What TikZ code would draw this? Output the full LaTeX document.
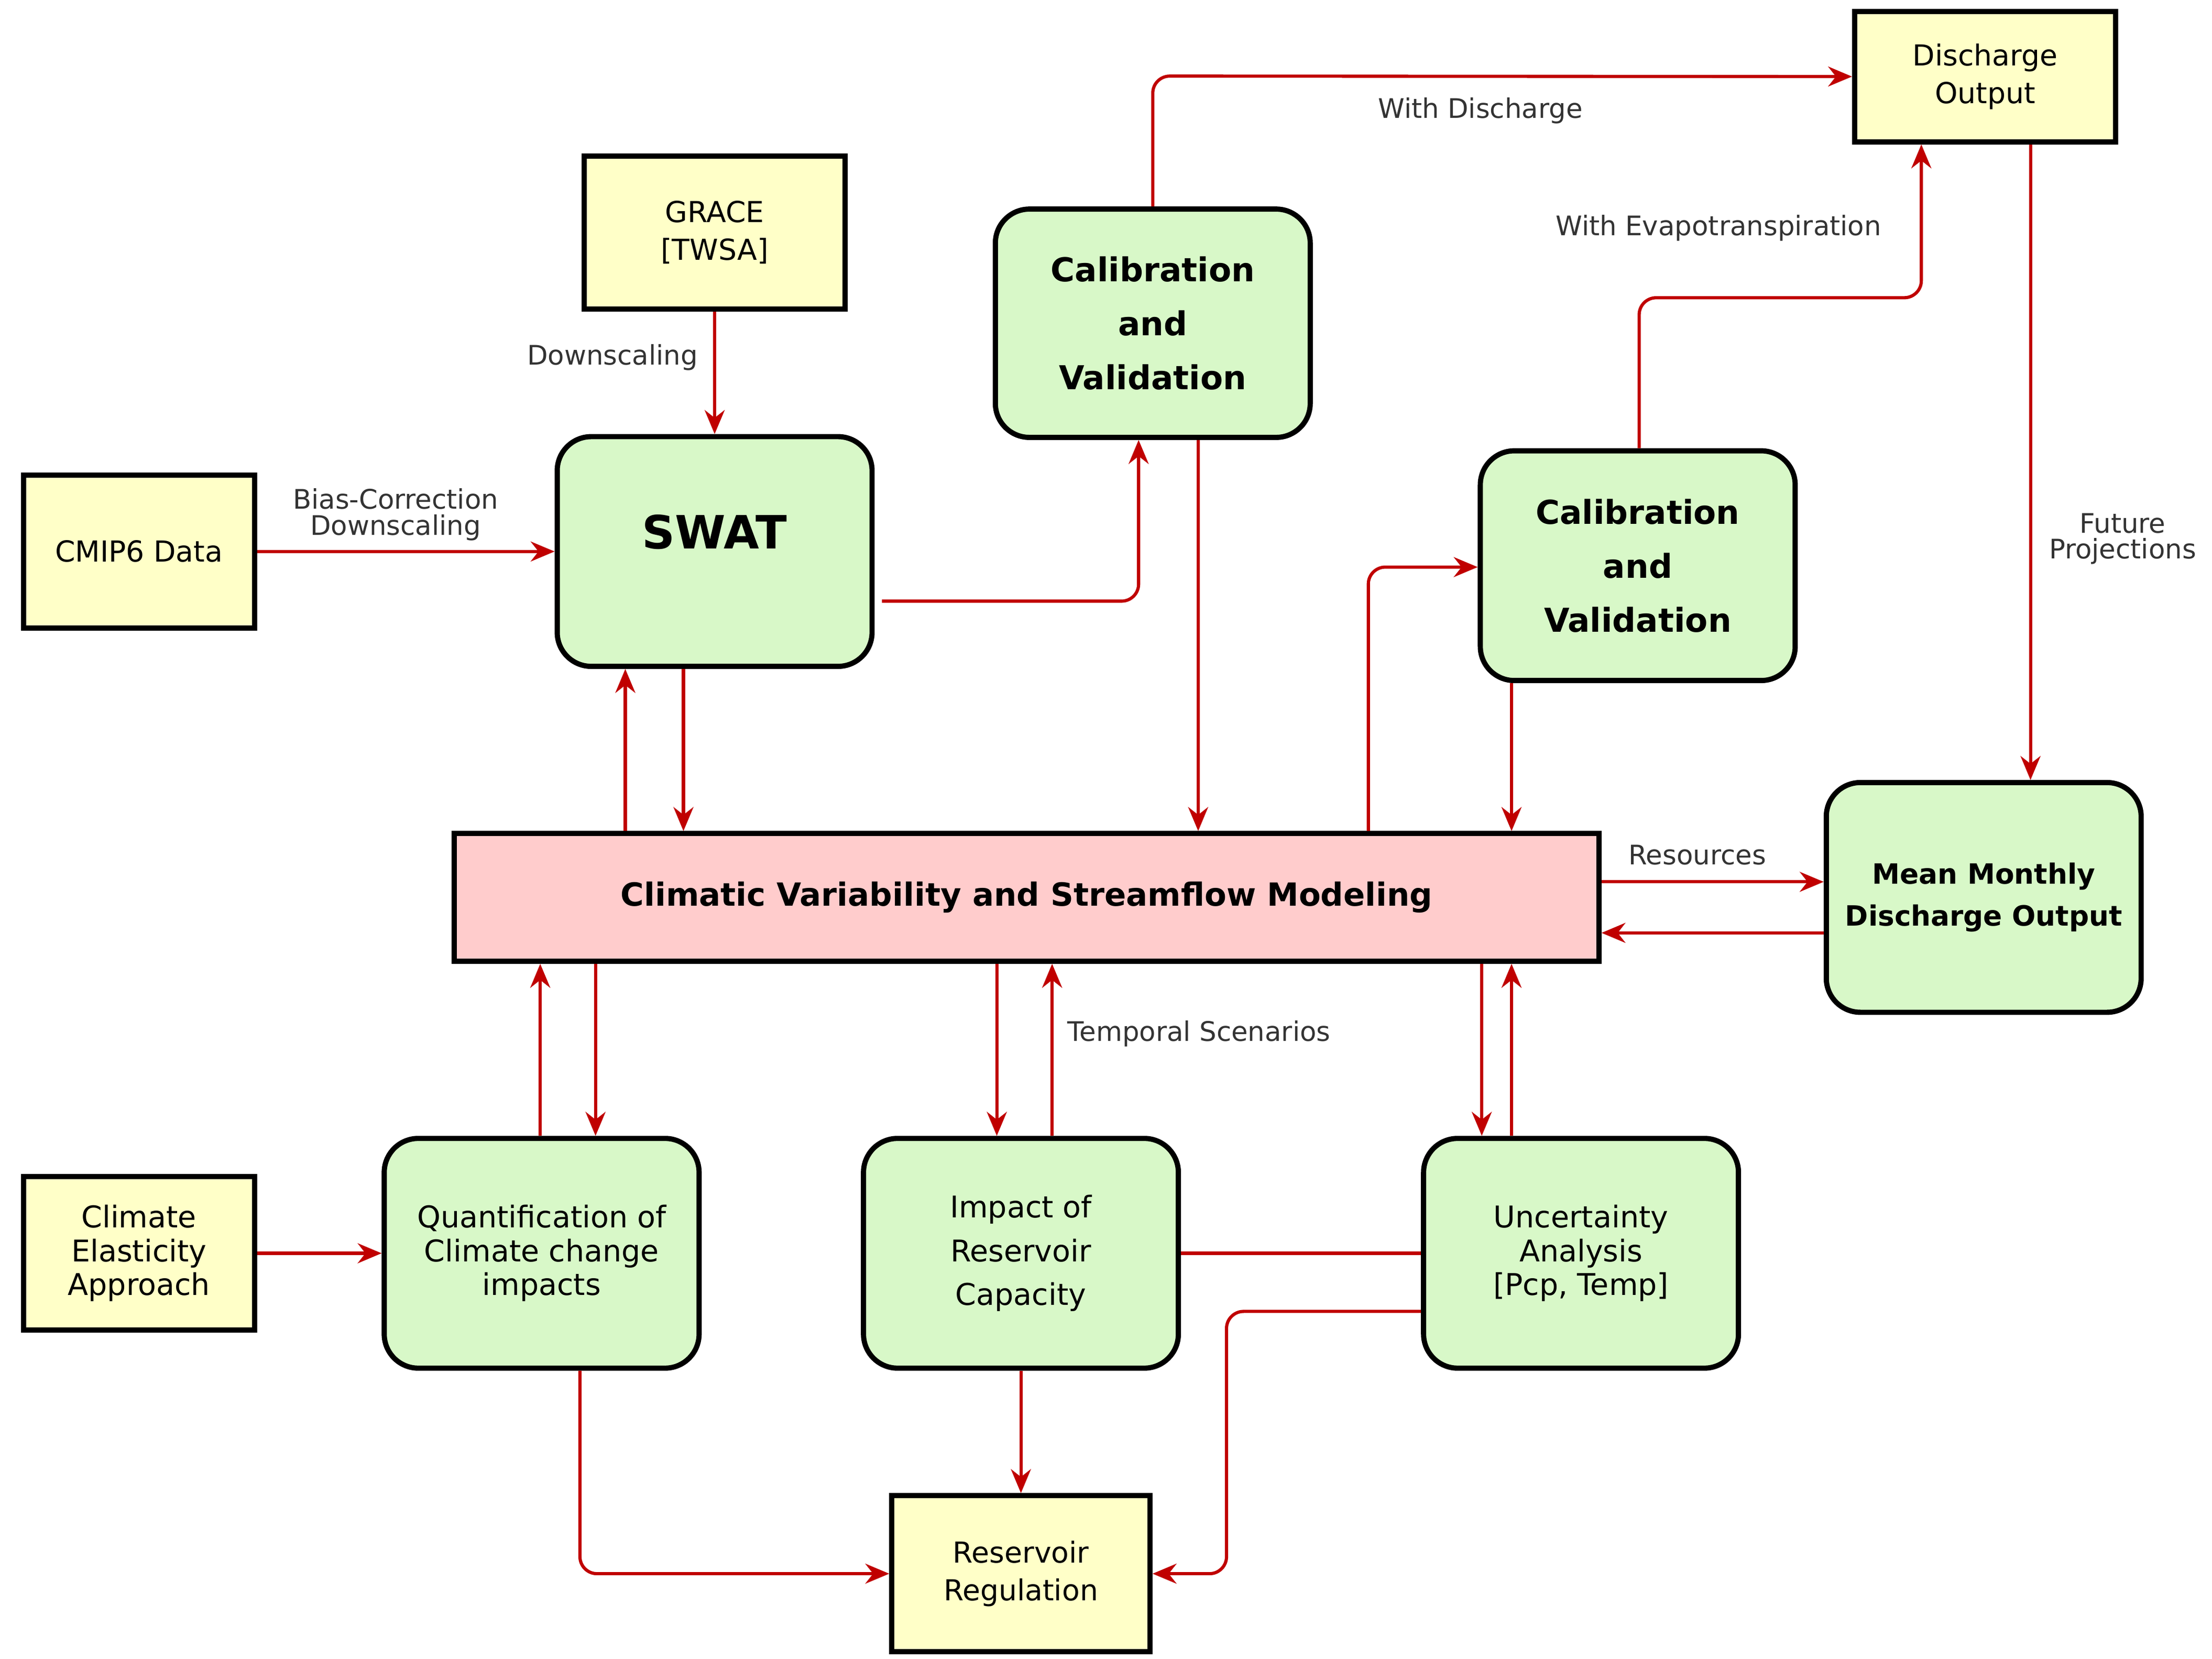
\documentclass[tikz,border=0pt]{standalone}
\usepackage{fontspec}
\setmainfont{DejaVu Sans}
\usetikzlibrary{arrows.meta,calc}
\definecolor{ar}{HTML}{C00000}
\definecolor{yf}{HTML}{FFFFC8}
\definecolor{gf}{HTML}{D8F8C8}
\definecolor{pf}{HTML}{FFCCCC}
\begin{document}
\begin{tikzpicture}[x=0.025cm,y=-0.025cm,
 yb/.style={draw=black,line width=2.6pt,fill=yf,align=center,inner sep=0,font=\fontsize{14.5}{19}\selectfont},
 gb/.style={draw=black,line width=2.6pt,fill=gf,rounded corners=0.6cm,align=center,inner sep=0,minimum width=5.55cm,minimum height=4.05cm,font=\bfseries\fontsize{15}{20}\selectfont},
 ar/.style={draw=ar,line width=1.6pt,-{Stealth[length=12pt,width=10pt]},rounded corners=0.3cm},
 ln/.style={draw=ar,line width=1.6pt},
 lb/.style={font=\fontsize{13.5}{16}\selectfont,text=black!80,align=center}]
\useasboundingbox (0,0) rectangle (1560,1170);
\fill[white] (0,0) rectangle (1560,1170);
\node[yb,minimum width=4.6cm,minimum height=2.3cm] (dis) at (1400,54) {Discharge\\Output};
\node[yb,minimum width=4.6cm,minimum height=2.7cm] (grace) at (504,164) {GRACE\\{}[TWSA]};
\node[gb,minimum height=4.025cm,font=\bfseries\fontsize{16.5}{27}\selectfont] (cal1) at (813,228) {Calibration\\and\\Validation};
\node[yb,minimum width=4.075cm,minimum height=2.7cm] (cmip) at (98,389) {CMIP6 Data};
\node[gb,font=\bfseries\fontsize{23}{28}\selectfont] (swat) at (504,389) {\raisebox{0.7cm}{SWAT}};
\node[gb,font=\bfseries\fontsize{16.5}{27}\selectfont] (cal2) at (1155,399) {Calibration\\and\\Validation};
\node[draw=black,line width=2.6pt,fill=pf,minimum width=20.175cm,minimum height=2.25cm,font=\bfseries\fontsize{16}{20}\selectfont] (main) at (724,633) {Climatic Variability and Streamflow Modeling};
\node[gb,font=\bfseries\fontsize{14}{21}\selectfont] (mean) at (1399,633) {Mean Monthly\\Discharge Output};
\node[yb,minimum width=4.075cm,minimum height=2.7cm,font=\fontsize{15}{17}\selectfont] (ce) at (98,884) {Climate\\Elasticity\\Approach};
\node[gb,font=\fontsize{15}{17}\selectfont] (quant) at (382,884) {\raisebox{0.55cm}{\parbox{5.4cm}{\centering Quantification of\\Climate change\\impacts}}};
\node[gb,font=\fontsize{15}{22}\selectfont] (imp) at (720,884) {Impact of\\Reservoir\\Capacity};
\node[gb,font=\fontsize{15}{17}\selectfont] (unc) at (1115,884) {\raisebox{-0.4cm}{\parbox{5.4cm}{\centering Uncertainty\\Analysis\\{}[Pcp, Temp]}}};
\node[yb,minimum width=4.55cm,minimum height=2.75cm] (rr) at (720,1110) {Reservoir\\Regulation};
% arrows
\draw[ar] (grace.south) -- (swat.north);
\node[lb] (l1) at (432,252) {Downscaling};
\draw[ar] (cmip.east) -- (swat.west);
\node[lb] (l2) at (279,363) {Bias-Correction\\[-3pt]Downscaling};
\coordinate (s1) at (622,424);
\draw[ar] (s1) -- (803,424) -- (cal1.south -| 803,0);
\draw[ar] (cal1.north) -- ++(0,-92) -- (dis.west);
\node[lb] (l3) at (1044,78) {With Discharge};
\draw[ar] (cal1.south -| 845,0) -- (main.north -| 845,0);
\draw[ar] (cal2.north -| 1156,0) -- (1156,210) -- (1355,210) -- (dis.south -| 1355,0);
\node[lb] (l4) at (1212,161) {With Evapotranspiration};
\draw[ar] (main.north -| 965,0) -- (965,400) -- (cal2.west |- 0,400);
\draw[ar] (cal2.south -| 1066,0) -- (main.north -| 1066,0);
\draw[ar] (dis.south -| 1432,0) -- (mean.north -| 1432,0);
\node[lb] (l5) at (1497,380) {Future\\[-3pt]Projections};
\draw[ar] (main.east |- 0,622) -- (mean.west |- 0,622);
\draw[ar] (mean.west |- 0,658) -- (main.east |- 0,658);
\node[lb] (l6) at (1197,603) {Resources};
\draw[ar] (main.north -| 441,0) -- (swat.south -| 441,0);
\draw[ar] (swat.south -| 482,0) -- (main.north -| 482,0);
\draw[ar] (quant.north -| 381,0) -- (main.south -| 381,0);
\draw[ar] (main.south -| 420,0) -- (quant.north -| 420,0);
\draw[ar] (main.south -| 703,0) -- (imp.north -| 703,0);
\draw[ar] (imp.north -| 742,0) -- (main.south -| 742,0);
\node[lb,anchor=west] (l7) at (748,729) {Temporal Scenarios};
\draw[ar] (main.south -| 1045,0) -- (unc.north -| 1045,0);
\draw[ar] (unc.north -| 1066,0) -- (main.south -| 1066,0);
\draw[ar] (ce.east) -- (quant.west);
\draw[ln] (imp.east) -- (unc.west);
\draw[ar] (unc.west |- 0,925) -- (865,925) -- (865,1110) -- (rr.east);
\draw[ar] (imp.south) -- (rr.north);
\draw[ar] (quant.south -| 409,0) -- (409,1110) -- (rr.west);
\end{tikzpicture}
\end{document}
